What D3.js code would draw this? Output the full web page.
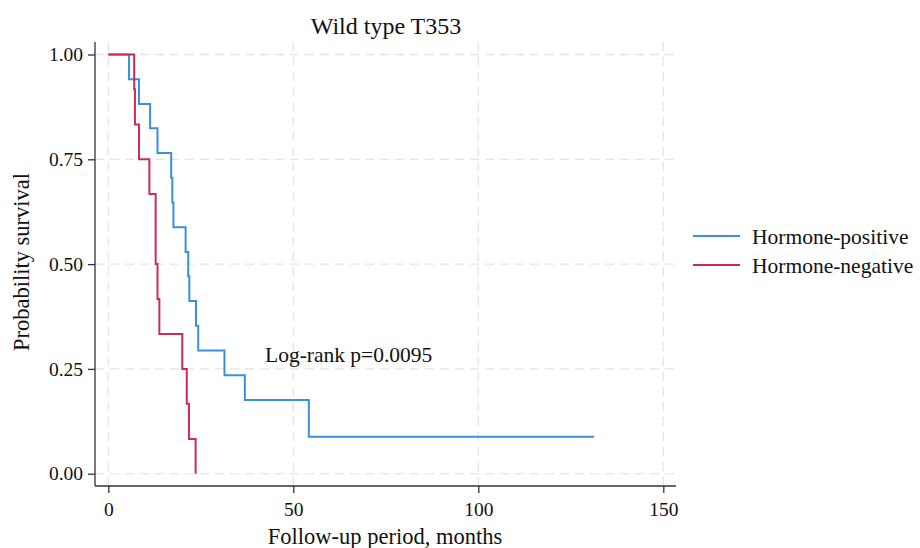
<!DOCTYPE html>
<html>
<head>
<meta charset="utf-8">
<script src="https://cdn.jsdelivr.net/npm/d3@7"></script>
<style>
  html, body { margin: 0; padding: 0; background: #fff; }
  svg { display: block; font-family: "Liberation Serif", "Times New Roman", serif; }
</style>
</head>
<body>
<svg id="km" width="920" height="548"></svg>
<script>
// Kaplan-Meier estimates
const posTimes = [0, 5.6, 8.3, 11.3, 13.3, 17.0, 17.3, 17.6, 20.9, 21.6, 21.9, 23.7, 24.3, 31.4, 36.9, 54.2, 131.3];
const posSurv  = [1, 0.941, 0.882, 0.824, 0.765, 0.706, 0.647, 0.588, 0.529, 0.471, 0.412, 0.353, 0.294, 0.235, 0.176, 0.088, 0.088];

const negTimes = [0, 7.0, 7.2, 8.3, 11.1, 12.8, 13.3, 13.8, 20.0, 21.2, 21.8, 23.6];
const negSurv  = [1, 0.917, 0.833, 0.75, 0.667, 0.5, 0.417, 0.333, 0.25, 0.167, 0.083, 0];

const seriesNames = ["Hormone-positive", "Hormone-negative"];
const xTicks = [0, 50, 100, 150];
const yTicks = [0, 0.25, 0.5, 0.75, 1];

const colors = ["#3a8fe2", "#cb2a5f"];

const svg = d3.select("#km");

const x = d3.scaleLinear().domain([0, 150]).range([108.3, 663.3]);
const y = d3.scaleLinear().domain([0, 1]).range([473.7, 54.5]);

// plot edges (stata pads the region a bit)
const plotLeft = 95, plotRight = 676, plotTop = 42, plotBottom = 486;

// grid
svg.append("g")
    .selectAll("line")
    .data(yTicks)
    .join("line")
      .attr("x1", plotLeft).attr("x2", plotRight)
      .attr("y1", d => y(d)).attr("y2", d => y(d))
      .attr("stroke", "#e4e4e4")
      .attr("stroke-width", 1.3)
      .attr("stroke-dasharray", "9,6");

svg.append("g")
    .selectAll("line")
    .data(xTicks)
    .join("line")
      .attr("x1", d => x(d)).attr("x2", d => x(d))
      .attr("y1", plotTop).attr("y2", plotBottom)
      .attr("stroke", "#e4e4e4")
      .attr("stroke-width", 1.3)
      .attr("stroke-dasharray", "9,6");

// axes
const yAxis = d3.axisLeft(y).tickValues(yTicks).tickFormat(d3.format(".2f")).tickSize(7).tickPadding(5);
const xAxis = d3.axisBottom(x).tickValues(xTicks).tickFormat(d3.format("d")).tickSize(7).tickPadding(9);

const gy = svg.append("g").attr("transform", `translate(${plotLeft},0)`).call(yAxis);
gy.select(".domain").attr("d", `M0,${plotTop}V${plotBottom}`);
const gx = svg.append("g").attr("transform", `translate(0,${plotBottom})`).call(xAxis);
gx.select(".domain").attr("d", `M${plotLeft},0H${plotRight}`);

[gx, gy].forEach(g => {
    g.select(".domain").attr("stroke", "#333").attr("stroke-width", 1.3);
    g.selectAll(".tick line").attr("stroke", "#333").attr("stroke-width", 1.3);
    g.selectAll(".tick text")
        .attr("fill", "#111")
        .style("font-family", "Liberation Serif, serif")
        .style("font-size", "19.5px");
});

// curves
const line = d3.line()
    .x(d => x(d[0]))
    .y(d => y(d[1]))
    .curve(d3.curveStepAfter);

const curves = [d3.zip(posTimes, posSurv), d3.zip(negTimes, negSurv)];

svg.append("g")
    .selectAll("path")
    .data(curves)
    .join("path")
      .attr("d", line)
      .attr("fill", "none")
      .attr("stroke", (d, i) => colors[i])
      .attr("stroke-width", 2);

// texts
svg.append("text")
    .attr("x", 386).attr("y", 34)
    .attr("text-anchor", "middle")
    .attr("font-size", "24px")
    .attr("fill", "#111")
    .text("Wild type T353");

svg.append("text")
    .attr("x", 385).attr("y", 544)
    .attr("text-anchor", "middle")
    .attr("font-size", "22.5px")
    .attr("fill", "#111")
    .text("Follow-up period, months");

svg.append("text")
    .attr("transform", "translate(29,262) rotate(-90)")
    .attr("text-anchor", "middle")
    .attr("font-size", "22.5px")
    .attr("fill", "#111")
    .text("Probability survival");

svg.append("text")
    .attr("x", 265).attr("y", 362)
    .attr("font-size", "21.5px")
    .attr("fill", "#111")
    .text("Log-rank p=0.0095");

// legend
const legend = svg.append("g")
    .selectAll("g")
    .data(seriesNames)
    .join("g")
      .attr("transform", (d, i) => `translate(693,${236 + i * 29})`);

legend.append("line")
    .attr("x1", 0).attr("x2", 47)
    .attr("stroke", (d, i) => colors[i])
    .attr("stroke-width", 2);

legend.append("text")
    .attr("x", 59).attr("y", 7.5)
    .attr("font-size", "21.5px")
    .attr("fill", "#111")
    .text(d => d);
</script>
</body>
</html>
